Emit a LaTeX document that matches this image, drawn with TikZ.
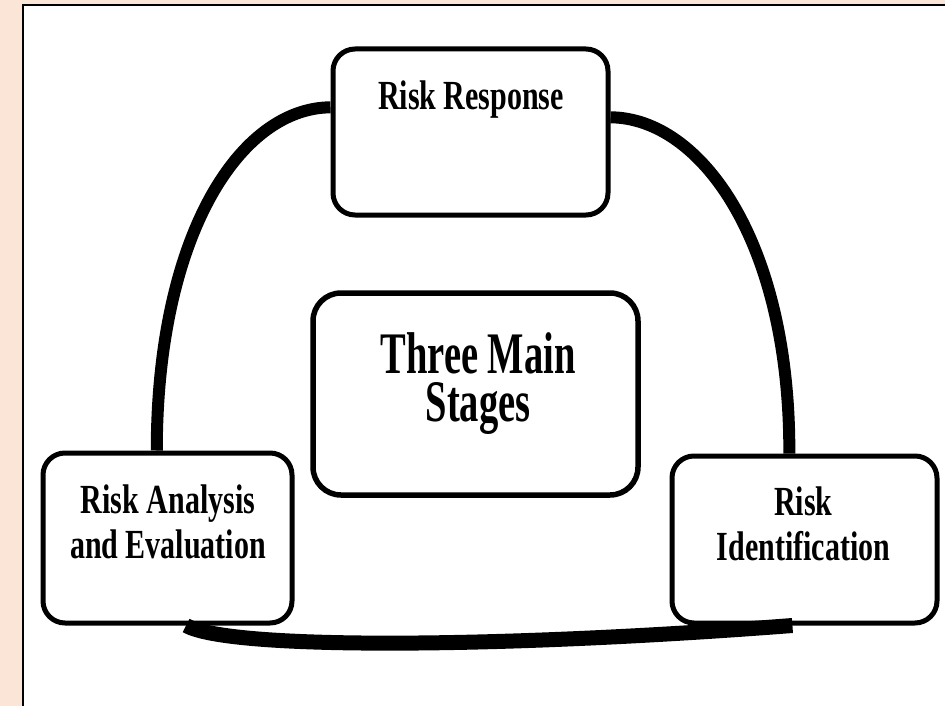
\documentclass[tikz,border=0pt]{standalone}
\usepackage{fontspec}
\setmainfont{Liberation Serif}
\usepackage{graphicx}
\definecolor{peach}{HTML}{FBE5D6}
% centred lines, stretched vertically (first line's baseline is the box baseline)
\newcommand{\stretchlines}[2]{\scalebox{1}[#1]{\vtop{\halign{\hfil##\hfil\cr#2\crcr}}}}

\begin{document}
\begin{tikzpicture}[x=1pt,y=-1pt,
  stagebox/.style={draw=black, line width=5pt, fill=white, rounded corners=22pt, inner sep=0pt},
  boxlabel/.style={anchor=base, inner sep=0pt, font=\bfseries\fontsize{30}{33.3}\selectfont},
  mainlabel/.style={anchor=base, inner sep=0pt, font=\bfseries\fontsize{38.5}{32}\selectfont},
  link/.style={draw=black, line width=12pt},
]
\useasboundingbox (0,0) rectangle (945,706);
\fill[peach] (0,0) rectangle (945,706);
\begin{scope}
  \clip (0,0) rectangle (945,706);
  \draw[line width=2.2pt, fill=white] (23,5) rectangle (960,720);
\end{scope}

% the four boxes
\node[stagebox, minimum width=275pt, minimum height=166pt] (rr) at (470.5,132) {};
\node[stagebox, line width=5.5pt, rounded corners=28pt, minimum width=325pt, minimum height=202pt] (cm) at (475.5,394) {};
\node[stagebox, minimum width=249pt, minimum height=170pt] (ra) at (167.5,538) {};
\node[stagebox, minimum width=265pt, minimum height=167pt] (ri) at (804.5,539.5) {};

% labels
\node[boxlabel] (lbl-rr) at (471,110) {\stretchlines{1.38}{Risk Response}};
\node[mainlabel] (lbl-cm) at (478,373) {\stretchlines{1.53}{Three Main\cr Stages}};
\node[boxlabel] (lbl-ra) at (168,513) {\stretchlines{1.38}{Risk Analysis\cr and Evaluation}};
\node[boxlabel] (lbl-ri) at (803.5,515) {\stretchlines{1.38}{Risk\cr Identification}};

% connecting arcs
\draw[link] (rr.170) .. controls (240,108) and (157,235) .. (ra.97);
\draw[link] (rr.6) .. controls (700,118) and (790,240) .. (ri.100);
\draw[link, line width=15pt] (ra.-78) .. controls (230,650) and (500,648) .. (ri.-98);
\end{tikzpicture}
\end{document}
